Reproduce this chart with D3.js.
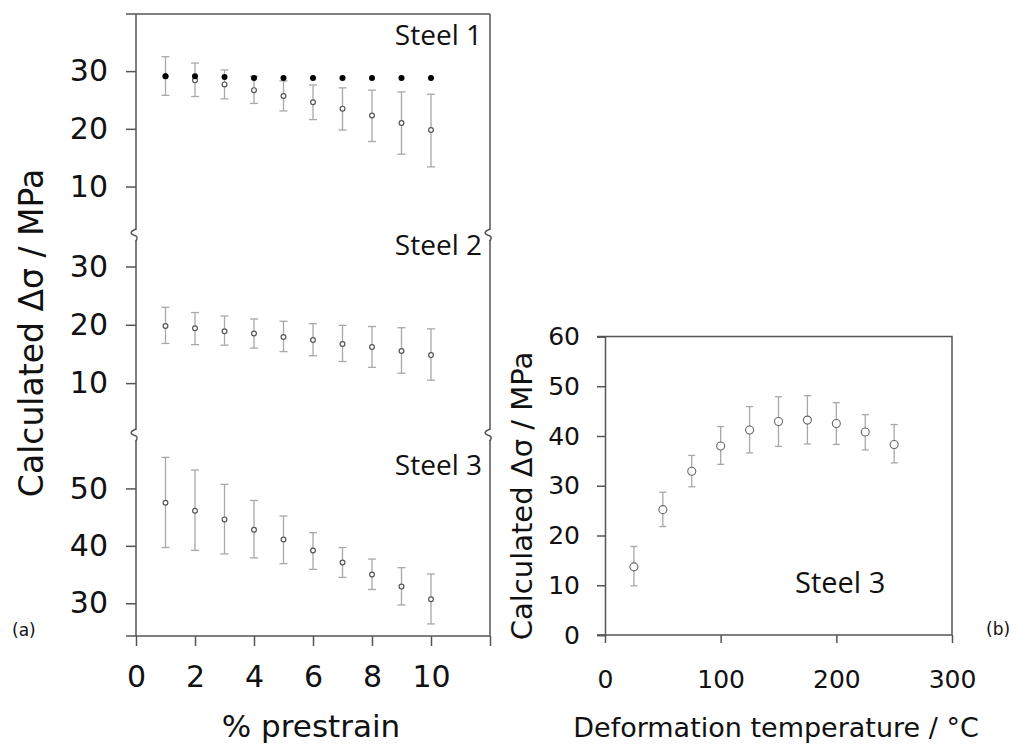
<!DOCTYPE html>
<html>
<head>
<meta charset="utf-8">
<script src="https://cdn.jsdelivr.net/npm/d3@7"></script>
<style>
  body { margin: 0; background: #fff; }
  svg text { fill: #111; }
  .tick text { font-family: 'DejaVu Sans', Verdana, sans-serif; }
</style>
</head>
<body>
<div id="chart"></div>
<script>
// % prestrain (panel a)
const prestrain = [1, 2, 3, 4, 5, 6, 7, 8, 9, 10];

// steel 1: filled dots and hollow points with error bars
const steel1Filled = [29.1, 29.1, 29.0, 28.8, 28.8, 28.8, 28.8, 28.8, 28.8, 28.8];
const steel1Mean = [29.1, 28.4, 27.7, 26.7, 25.7, 24.6, 23.5, 22.3, 21.0, 19.8];
const steel1Hi = [32.5, 31.4, 30.2, 29.1, 28.3, 27.6, 27.1, 26.7, 26.4, 26.0];
const steel1Lo = [25.8, 25.6, 25.2, 24.4, 23.1, 21.6, 19.8, 17.8, 15.6, 13.4];

// steel 2
const steel2Mean = [19.8, 19.4, 18.9, 18.5, 17.9, 17.4, 16.7, 16.2, 15.5, 14.8];
const steel2Hi = [23.0, 22.1, 21.5, 21.0, 20.6, 20.2, 19.9, 19.7, 19.5, 19.3];
const steel2Lo = [16.8, 16.6, 16.5, 16.0, 15.4, 14.7, 13.7, 12.7, 11.7, 10.5];

// steel 3
const steel3Mean = [47.5, 46.1, 44.6, 42.8, 41.1, 39.2, 37.1, 35.0, 32.9, 30.7];
const steel3Hi = [55.4, 53.2, 50.7, 47.9, 45.2, 42.3, 39.7, 37.7, 36.2, 35.1];
const steel3Lo = [39.7, 39.2, 38.6, 37.9, 36.9, 35.9, 34.5, 32.4, 29.7, 26.4];

// deformation temperature (panel b), steel 3
const temperature = [25, 50, 75, 100, 125, 150, 175, 200, 225, 250];
const tempMean = [13.7, 25.2, 32.9, 38.0, 41.2, 42.9, 43.2, 42.5, 40.8, 38.3];
const tempHi = [17.8, 28.7, 36.1, 41.9, 45.9, 47.9, 48.1, 46.7, 44.3, 42.3];
const tempLo = [9.9, 21.8, 29.8, 34.3, 36.6, 37.9, 38.4, 38.3, 37.2, 34.6];

// tick labels
const prestrainTicks = [0, 2, 4, 6, 8, 10, 12];
const steel1Ticks = [10, 20, 30];
const steel2Ticks = [10, 20, 30];
const steel3Ticks = [30, 40, 50];
const tempTicks = [0, 100, 200, 300];
const tempYTicks = [0, 10, 20, 30, 40, 50, 60];

const width = 1021;
const height = 744;
const axisColor = '#555';
const barColor = '#a8a8a8';

const svg = d3
  .select('#chart')
  .append('svg')
  .attr('width', width)
  .attr('height', height);

// ---------- panel (a) ----------
const aLeft = 136;
const aRight = 490;
const aTop = 14;
const aBottom = 636;
const breaks = [235, 435];

const xA = d3.scaleLinear().domain([0, 12]).range([aLeft, aRight]);

// one y scale per steel, stacked
const panels = [
  {
    name: 'Steel 1', y: d3.scaleLinear().domain([1.6, 39.9]).range([breaks[0], aTop]),
    ticks: steel1Ticks, mean: steel1Mean, hi: steel1Hi, lo: steel1Lo, labelY: 45
  },
  {
    name: 'Steel 2', y: d3.scaleLinear().domain([1.1, 35.4]).range([breaks[1], breaks[0]]),
    ticks: steel2Ticks, mean: steel2Mean, hi: steel2Hi, lo: steel2Lo, labelY: 255
  },
  {
    name: 'Steel 3', y: d3.scaleLinear().domain([24.3, 59.3]).range([aBottom, breaks[1]]),
    ticks: steel3Ticks, mean: steel3Mean, hi: steel3Hi, lo: steel3Lo, labelY: 475
  }
];

const gA = svg.append('g').attr('class', 'panel-a');

panels.forEach((p) => {
  const yAxis = d3.axisLeft(p.y).tickValues(p.ticks).tickSize(10).tickPadding(18);
  const ax = gA
    .append('g')
    .attr('class', 'y axis')
    .attr('transform', `translate(${aLeft}, 0)`)
    .call(yAxis);
  ax.select('.domain').remove();
  ax.selectAll('line').attr('stroke', axisColor).attr('stroke-width', 1.5);
  ax.selectAll('text').style('font-size', '30px');

  const rows = prestrain.map((x, i) => ({ x, m: p.mean[i], hi: p.hi[i], lo: p.lo[i] }));
  const pts = gA.append('g').selectAll('g').data(rows).join('g');
  // error bars
  pts
    .append('line')
    .attr('x1', (d) => xA(d.x))
    .attr('x2', (d) => xA(d.x))
    .attr('y1', (d) => p.y(d.hi))
    .attr('y2', (d) => p.y(d.lo))
    .attr('stroke', barColor)
    .attr('stroke-width', 1.3);
  ['hi', 'lo'].forEach((k) => {
    pts
      .append('line')
      .attr('x1', (d) => xA(d.x) - 4)
      .attr('x2', (d) => xA(d.x) + 4)
      .attr('y1', (d) => p.y(d[k]))
      .attr('y2', (d) => p.y(d[k]))
      .attr('stroke', barColor)
      .attr('stroke-width', 1.3);
  });
  pts
    .append('circle')
    .attr('cx', (d) => xA(d.x))
    .attr('cy', (d) => p.y(d.m))
    .attr('r', 2.4)
    .attr('fill', '#fff')
    .attr('stroke', '#555')
    .attr('stroke-width', 1.2);

  // steel label
  gA.append('text')
    .attr('x', 482)
    .attr('y', p.labelY)
    .attr('text-anchor', 'end')
    .style('font-family', "'Open Sans', sans-serif")
    .style('font-size', '28px')
    .text(p.name);
});

// filled dots for steel 1
gA.append('g')
  .selectAll('circle')
  .data(prestrain.map((x, i) => ({ x, v: steel1Filled[i] })))
  .join('circle')
  .attr('cx', (d) => xA(d.x))
  .attr('cy', (d) => panels[0].y(d.v))
  .attr('r', 3)
  .attr('fill', '#000');

// x axis of panel (a)
const xAxisA = d3
  .axisBottom(xA)
  .tickValues(prestrainTicks)
  .tickSize(10)
  .tickPadding(20)
  .tickFormat((d) => (d === 12 ? '' : d));
const axA = gA
  .append('g')
  .attr('class', 'x axis')
  .attr('transform', `translate(0, ${aBottom})`)
  .call(xAxisA);
axA.select('.domain').remove();
axA.selectAll('line').attr('stroke', axisColor).attr('stroke-width', 1.5);
axA.selectAll('text').style('font-size', '30px');

// frame of panel (a)
const frameA = gA.append('g').attr('stroke', axisColor).attr('stroke-width', 1.5).attr('fill', 'none');
frameA.append('line').attr('x1', aLeft - 10).attr('x2', aRight).attr('y1', aTop).attr('y2', aTop);
frameA.append('line').attr('x1', aLeft - 10).attr('x2', aRight).attr('y1', aBottom).attr('y2', aBottom);
[aLeft, aRight].forEach((x) => {
  frameA.append('line').attr('x1', x).attr('x2', x).attr('y1', aTop).attr('y2', aBottom);
  // axis breaks
  breaks.forEach((b) => {
    frameA
      .append('rect')
      .attr('x', x - 2)
      .attr('y', b - 5)
      .attr('width', 4)
      .attr('height', 10)
      .attr('fill', '#fff')
      .attr('stroke', 'none');
    frameA
      .append('path')
      .attr('d', `M${x},${b - 6} C${x - 7},${b - 3} ${x - 6},${b - 1} ${x},${b + 1} C${x + 2},${b + 2} ${x + 1},${b + 4} ${x},${b + 6}`);
  });
});

// titles of panel (a)
svg.append('text')
  .attr('transform', 'translate(43, 333) rotate(-90)')
  .attr('text-anchor', 'middle')
  .style('font-family', "'DejaVu Sans', Verdana, sans-serif")
  .style('font-size', '33px')
  .text('Calculated Δσ / MPa');

svg.append('text')
  .attr('x', 311)
  .attr('y', 737)
  .attr('text-anchor', 'middle')
  .style('font-family', "'DejaVu Sans', Verdana, sans-serif")
  .style('font-size', '31px')
  .text('% prestrain');

svg.append('text')
  .attr('x', 12)
  .attr('y', 636)
  .style('font-family', "'DejaVu Sans', Verdana, sans-serif")
  .style('font-size', '17px')
  .text('(a)');

// ---------- panel (b) ----------
const bLeft = 605;
const bRight = 952;
const bTop = 336.5;
const bBottom = 635;

const xB = d3.scaleLinear().domain([0, 300]).range([bLeft, bRight]);
const yB = d3.scaleLinear().domain([0, 60]).range([bBottom, bTop]);

const gB = svg.append('g').attr('class', 'panel-b');

const yAxisB = d3.axisLeft(yB).tickValues(tempYTicks).tickSize(8).tickPadding(17);
const ayB = gB.append('g').attr('transform', `translate(${bLeft}, 0)`).call(yAxisB);
ayB.select('.domain').attr('stroke', axisColor).attr('stroke-width', 1.5);
ayB.selectAll('line').attr('stroke', axisColor).attr('stroke-width', 1.5);
ayB.selectAll('text').style('font-size', '25px');

const xAxisB = d3.axisBottom(xB).tickValues(tempTicks).tickSize(8).tickPadding(27);
const axB = gB.append('g').attr('transform', `translate(0, ${bBottom})`).call(xAxisB);
axB.select('.domain').remove();
axB.selectAll('line').attr('stroke', axisColor).attr('stroke-width', 1.5);
axB.selectAll('text').style('font-size', '25px');

// box of panel (b)
gB.append('path')
  .attr('d', `M${bLeft - 8},${bBottom} H${bRight} V${bTop} H${bLeft - 8}`)
  .attr('fill', 'none')
  .attr('stroke', axisColor)
  .attr('stroke-width', 1.5);

const rowsB = temperature.map((x, i) => ({ x, m: tempMean[i], hi: tempHi[i], lo: tempLo[i] }));
const ptsB = gB.append('g').selectAll('g').data(rowsB).join('g');
ptsB
  .append('line')
  .attr('x1', (d) => xB(d.x))
  .attr('x2', (d) => xB(d.x))
  .attr('y1', (d) => yB(d.hi))
  .attr('y2', (d) => yB(d.lo))
  .attr('stroke', barColor)
  .attr('stroke-width', 1.3);
['hi', 'lo'].forEach((k) => {
  ptsB
    .append('line')
    .attr('x1', (d) => xB(d.x) - 3.5)
    .attr('x2', (d) => xB(d.x) + 3.5)
    .attr('y1', (d) => yB(d[k]))
    .attr('y2', (d) => yB(d[k]))
    .attr('stroke', barColor)
    .attr('stroke-width', 1.3);
});
ptsB
  .append('circle')
  .attr('cx', (d) => xB(d.x))
  .attr('cy', (d) => yB(d.m))
  .attr('r', 4)
  .attr('fill', '#fff')
  .attr('stroke', '#666')
  .attr('stroke-width', 1.1);

gB.append('text')
  .attr('x', 795)
  .attr('y', 593)
  .style('font-family', "'Open Sans', sans-serif")
  .style('font-size', '29px')
  .text('Steel 3');

svg.append('text')
  .attr('transform', 'translate(532, 496) rotate(-90)')
  .attr('text-anchor', 'middle')
  .style('font-family', "'DejaVu Sans', Verdana, sans-serif")
  .style('font-size', '29px')
  .text('Calculated Δσ / MPa');

svg.append('text')
  .attr('x', 776)
  .attr('y', 737)
  .attr('text-anchor', 'middle')
  .style('font-family', "'DejaVu Sans', Verdana, sans-serif")
  .style('font-size', '27px')
  .text('Deformation temperature / °C');

svg.append('text')
  .attr('x', 986)
  .attr('y', 635)
  .style('font-family', "'DejaVu Sans', Verdana, sans-serif")
  .style('font-size', '17px')
  .text('(b)');
</script>
</body>
</html>
